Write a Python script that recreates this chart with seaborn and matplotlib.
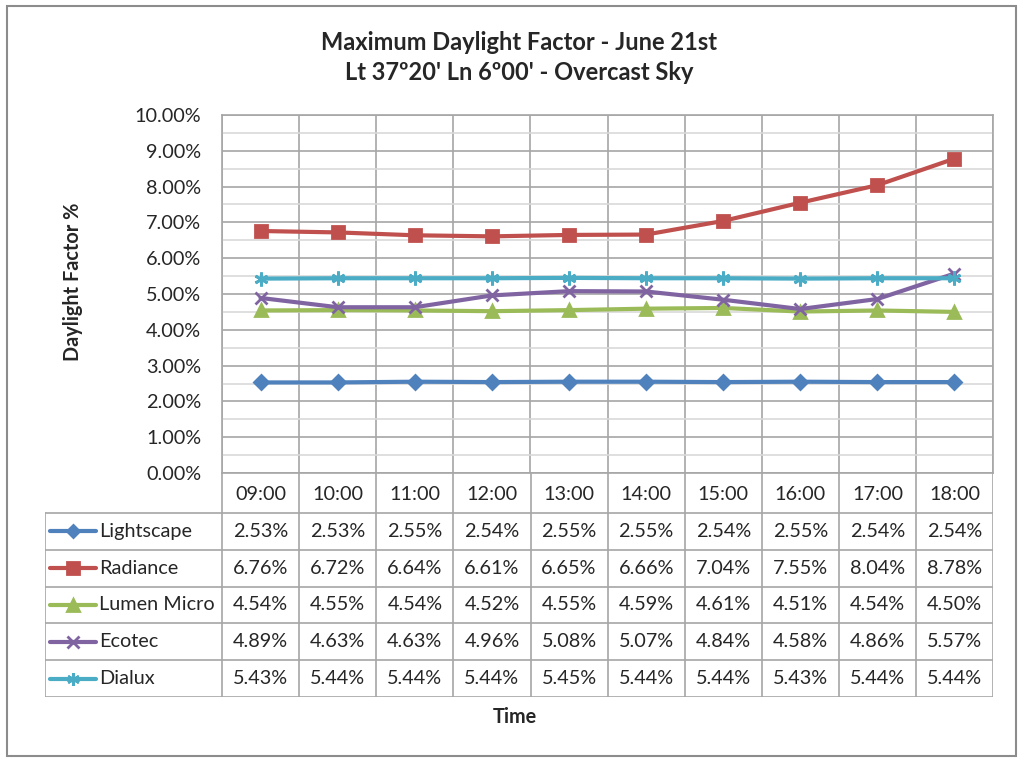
import numpy as np
import pandas as pd
import matplotlib
matplotlib.use("Agg")
import matplotlib.pyplot as plt
from matplotlib.patches import Rectangle
from matplotlib.ticker import MultipleLocator, FuncFormatter
import seaborn as sns

# --- data (percent) ---
times = ["09:00", "10:00", "11:00", "12:00", "13:00", "14:00", "15:00", "16:00", "17:00", "18:00"]
series_names = ["Lightscape", "Radiance", "Lumen Micro", "Ecotec", "Dialux"]
lightscape = [2.53, 2.53, 2.55, 2.54, 2.55, 2.55, 2.54, 2.55, 2.54, 2.54]
radiance = [6.76, 6.72, 6.64, 6.61, 6.65, 6.66, 7.04, 7.55, 8.04, 8.78]
lumen_micro = [4.54, 4.55, 4.54, 4.52, 4.55, 4.59, 4.61, 4.51, 4.54, 4.50]
ecotec = [4.89, 4.63, 4.63, 4.96, 5.08, 5.07, 4.84, 4.58, 4.86, 5.57]
dialux = [5.43, 5.44, 5.44, 5.44, 5.45, 5.44, 5.44, 5.43, 5.44, 5.44]

colors = ["#4F81BD", "#C0504D", "#9BBB59", "#8064A2", "#4BACC6"]
markers = ["D", "s", "^", "x", (6, 2, 0)]
msizes = [7, 9, 9, 9, 10]

values = [lightscape, radiance, lumen_micro, ecotec, dialux]

sns.set_style("white")
plt.rcParams["font.family"] = ["Lato", "DejaVu Sans"]

FS = 14.3

W, H = 1024, 763
fig = plt.figure(figsize=(W / 100, H / 100), dpi=100)

def fx(px):
    return px / W

def fy(py):
    return 1 - py / H

# main plot area
ax = fig.add_axes([fx(222), fy(473), fx(993) - fx(222), fy(115) - fy(473)])
for name, vals, c, m, ms in zip(series_names, values, colors, markers, msizes):
    d = pd.DataFrame({"Time": times, "Value": vals})
    sns.lineplot(data=d, x="Time", y="Value", color=c, marker=m, markersize=ms,
                 markerfacecolor=c, markeredgecolor=c, markeredgewidth=2,
                 linewidth=3, ax=ax, zorder=3)

ax.set_xlim(-0.5, len(times) - 0.5)
ax.set_ylim(0, 10)
ax.yaxis.set_major_locator(MultipleLocator(1))
ax.yaxis.set_minor_locator(MultipleLocator(0.5))
ax.yaxis.set_major_formatter(FuncFormatter(lambda v, p: f"{v:.2f}%"))
ax.grid(axis="y", which="major", color="#a6a6a6", linewidth=1.2)
ax.grid(axis="y", which="minor", color="#d9d9d9", linewidth=1.2)
for k in range(len(times) + 1):
    ax.axvline(k - 0.5, color="#a6a6a6", linewidth=1.2, zorder=0.5)
ax.set_axisbelow(True)
ax.set_xticks([])
ax.set_xlabel("")
ax.set_ylabel("Daylight Factor %", fontsize=FS, fontweight="bold")
ax.yaxis.set_label_coords(-0.180, 0.535)
ax.tick_params(axis="y", which="both", labelsize=FS, length=0, pad=15)
for s in ax.spines.values():
    s.set_color("#a6a6a6")
    s.set_linewidth(1.2)

# data table below the plot
tab = fig.add_axes([fx(45), fy(697), fx(993) - fx(45), fy(473) - fy(697)])
left = -0.5 - 177 / 77
tab.set_xlim(left, len(times) - 0.5)
tab.set_ylim(224, 0)
tab.axis("off")
header_h = 40
row_h = (224 - header_h) / len(series_names)
lc = "#a6a6a6"
for k in range(len(times) + 1):
    tab.plot([k - 0.5, k - 0.5], [0, 224], color=lc, lw=1.2)
tab.plot([left, left], [header_h, 224], color=lc, lw=1.2)
for i in range(len(series_names) + 1):
    y = header_h + i * row_h
    tab.plot([left, len(times) - 0.5], [y, y], color=lc, lw=1.2)

for j, t in enumerate(times):
    tab.text(j, header_h / 2 + 2, t, ha="center", va="center", fontsize=FS)

px = lambda p: left + (p - 45) / 77
for i, (name, vals) in enumerate(zip(series_names, values)):
    yc = header_h + (i + 0.5) * row_h
    tab.plot([px(50), px(96)], [yc, yc], color=colors[i], lw=3)
    tab.plot([px(73)], [yc], marker=markers[i], ms=msizes[i] - 1,
             mfc=colors[i], mec=colors[i], mew=2, color=colors[i])
    tab.text(px(99), yc, name, ha="left", va="center", fontsize=FS)
    for j, v in enumerate(vals):
        tab.text(j, yc, f"{v:.2f}%", ha="center", va="center", fontsize=FS)

fig.text(fx(515), fy(717), "Time", ha="center", va="center",
         fontsize=FS, fontweight="bold")

fig.text(fx(519), fy(42), "Maximum Daylight Factor - June 21st",
         ha="center", va="center", fontsize=17, fontweight="bold")
fig.text(fx(519), fy(73), "Lt 37º20' Ln 6º00' - Overcast Sky",
         ha="center", va="center", fontsize=17, fontweight="bold")

fig.patches.append(Rectangle((fx(7), fy(756)), fx(1016) - fx(7), fy(6) - fy(756),
                             transform=fig.transFigure, fill=False,
                             edgecolor="#8c8c8c", linewidth=1.5))

fig.savefig("out.png", dpi=100, facecolor="white")
